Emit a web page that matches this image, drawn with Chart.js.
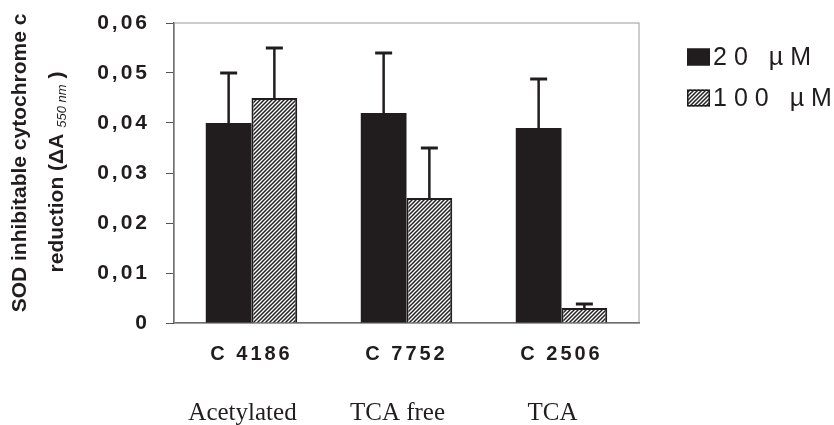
<!DOCTYPE html>
<html>
<head>
<meta charset="utf-8">
<script src="https://cdn.jsdelivr.net/npm/chart.js@4.4.1/dist/chart.umd.min.js"></script>
<style>
  html, body { margin: 0; padding: 0; background: #fff; }
</style>
</head>
<body>
<canvas id="chart" width="834" height="425"></canvas>
<script>
// data
const strains = ["C 4186", "C 7752", "C 2506"];
const groups = ["Acetylated", "TCA free", "TCA"];
const seriesNames = ["20 µM", "100 µM"];
const low = [0.040, 0.042, 0.039];
const lowErr = [0.010, 0.012, 0.0098];
const high = [0.045, 0.025, 0.003];
const highErr = [0.010, 0.010, 0.0008];
const yMin = 0, yMax = 0.06, yStep = 0.01;

const ink = "#211d1e";
const sans = '"Liberation Sans", Arial, sans-serif';
const serif = '"Liberation Serif", "Times New Roman", serif';

// diagonal hatch for the 100 µM bars
function makeHatch() {
  const c = document.createElement("canvas");
  c.width = 4; c.height = 4;
  const g = c.getContext("2d");
  g.fillStyle = "#fff";
  g.fillRect(0, 0, 4, 4);
  g.strokeStyle = "#222";
  g.lineWidth = 1.5;
  g.beginPath();
  g.moveTo(0, 4); g.lineTo(4, 0);
  g.moveTo(-1, 1); g.lineTo(1, -1);
  g.moveTo(3, 5); g.lineTo(5, 3);
  g.stroke();
  return g.createPattern(c, "repeat");
}
const hatch = makeHatch();

const decor = {
  id: "decor",
  beforeLayout(chart) { chart.ctx.letterSpacing = "3px"; },
  beforeDraw(chart) { chart.ctx.letterSpacing = "3px"; },
  beforeDatasetsDraw(chart) {
    const { ctx, chartArea: a } = chart;
    ctx.save();
    ctx.strokeStyle = "#9a9a9a";
    ctx.lineWidth = 1;
    ctx.strokeRect(a.left, a.top, a.right - a.left, a.bottom - a.top);
    ctx.restore();
  },
  afterDatasetsDraw(chart) {
    const { ctx } = chart;
    const y = chart.scales.y;
    const errs = [lowErr, highErr];
    ctx.save();
    ctx.strokeStyle = ink;
    chart.data.datasets.forEach((ds, d) => {
      chart.getDatasetMeta(d).data.forEach((bar, i) => {
        const top = y.getPixelForValue(ds.data[i] + errs[d][i]);
        ctx.lineWidth = 2.5;
        ctx.beginPath();
        ctx.moveTo(bar.x, bar.y);
        ctx.lineTo(bar.x, top);
        ctx.stroke();
        ctx.lineWidth = 3;
        ctx.beginPath();
        ctx.moveTo(bar.x - 8.5, top);
        ctx.lineTo(bar.x + 8.5, top);
        ctx.stroke();
      });
    });
    ctx.restore();
  },
  afterDraw(chart) {
    const { ctx } = chart;
    const x = chart.scales.x;
    ctx.save();
    ctx.letterSpacing = "0px";
    ctx.fillStyle = ink;

    // second row of category labels
    ctx.font = "25px " + serif;
    ctx.textAlign = "center";
    ctx.textBaseline = "middle";
    groups.forEach((g, i) => ctx.fillText(g, x.getPixelForTick(i) - 9, 413));

    // y axis title, two rotated lines
    ctx.save();
    ctx.translate(20, 163);
    ctx.rotate(-Math.PI / 2);
    ctx.font = "bold 21px " + sans;
    ctx.fillText("SOD inhibitable cytochrome c", 0, 0);
    ctx.restore();

    ctx.save();
    ctx.translate(57, 172);
    ctx.rotate(-Math.PI / 2);
    ctx.textAlign = "left";
    const bold = "bold 21px " + sans;
    const sub = "italic 13px " + sans;
    const p1 = "reduction (ΔA ", p2 = "550 nm", p3 = " )";
    ctx.font = bold; const w1 = ctx.measureText(p1).width, w3 = ctx.measureText(p3).width;
    ctx.font = sub; const w2 = ctx.measureText(p2).width;
    let cx = -(w1 + w2 + w3) / 2;
    ctx.font = bold; ctx.fillText(p1, cx, 0); cx += w1;
    ctx.font = sub; ctx.fillText(p2, cx, 5); cx += w2;
    ctx.font = bold; ctx.fillText(p3, cx, 0);
    ctx.restore();

    // legend
    ctx.textAlign = "left";
    ctx.font = "25px " + sans;
    ctx.letterSpacing = "7px";
    chart.data.datasets.forEach((ds, d) => {
      const cy = 57 + d * 41;
      ctx.fillStyle = ds.backgroundColor;
      ctx.fillRect(687, cy - 8.5, 23, 17);
      ctx.strokeStyle = ink;
      ctx.lineWidth = 1.5;
      ctx.strokeRect(687.75, cy - 7.75, 21.5, 15.5);
      ctx.fillStyle = ink;
      ctx.fillText(ds.label, 713, cy + 1);
    });
    ctx.restore();
  }
};

new Chart(document.getElementById("chart"), {
  type: "bar",
  data: {
    labels: strains,
    datasets: [
      { label: seriesNames[0], data: low, backgroundColor: ink, borderWidth: 0 },
      { label: seriesNames[1], data: high, backgroundColor: hatch, borderColor: ink, borderWidth: 2 }
    ]
  },
  options: {
    responsive: false,
    animation: false,
    layout: { padding: { top: 23, right: 195, left: 0, bottom: 0 } },
    datasets: { bar: { categoryPercentage: 0.59, barPercentage: 1.0 } },
    plugins: { legend: { display: false }, tooltip: { enabled: false } },
    scales: {
      x: {
        afterFit(s) { s.height = 102; s.paddingLeft = 0; s.paddingRight = 0; },
        grid: { display: false },
        border: { display: true, color: "#444", width: 1.5 },
        ticks: { color: ink, font: { family: sans, size: 20, weight: "bold" }, padding: 11 }
      },
      y: {
        min: yMin, max: yMax,
        afterFit(s) { s.width = 174; s.paddingTop = 0; s.paddingBottom = 0; },
        grid: { display: true, drawOnChartArea: false, drawTicks: true, tickLength: 8, color: "#555" },
        border: { display: true, color: "#444", width: 1.5 },
        ticks: {
          stepSize: yStep,
          padding: 16,
          color: ink,
          font: { family: sans, size: 21, weight: "bold" },
          callback: v => v === 0 ? "0" : v.toFixed(2).replace(".", ",")
        }
      }
    }
  },
  plugins: [decor]
});
</script>
</body>
</html>
